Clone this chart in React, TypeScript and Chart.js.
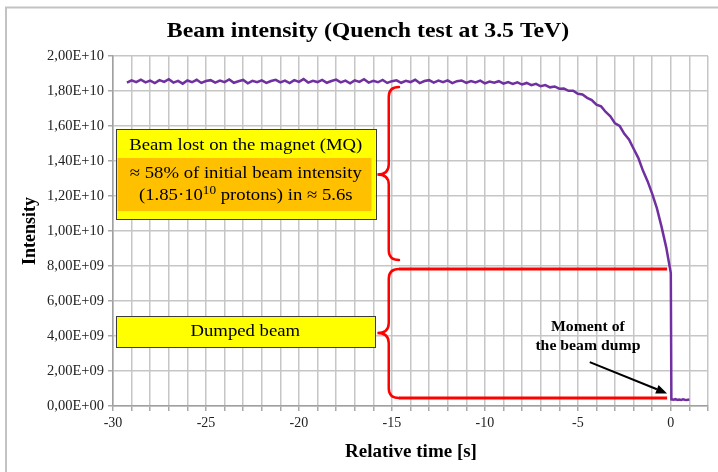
import React, { useEffect, useRef } from "react";
import { Chart, registerables } from "chart.js";

Chart.register(...registerables);

// ---- data (time in s, intensity in units of 1e10 protons) ----
const UNIT = 1e10;

const times = [
  -29.25, -29, -28.75, -28.5, -28.25, -28, -27.75, -27.5, -27.25, -27,
  -26.75, -26.5, -26.25, -26, -25.75, -25.5, -25.25, -25, -24.75, -24.5,
  -24.25, -24, -23.75, -23.5, -23.25, -23, -22.75, -22.5, -22.25, -22,
  -21.75, -21.5, -21.25, -21, -20.75, -20.5, -20.25, -20, -19.75, -19.5,
  -19.25, -19, -18.75, -18.5, -18.25, -18, -17.75, -17.5, -17.25, -17,
  -16.75, -16.5, -16.25, -16, -15.75, -15.5, -15.25, -15, -14.75, -14.5,
  -14.25, -14, -13.75, -13.5, -13.25, -13, -12.75, -12.5, -12.25, -12,
  -11.75, -11.5, -11.25, -11, -10.75, -10.5, -10.25, -10, -9.75, -9.5,
  -9.25, -9, -8.75, -8.5, -8.25, -8, -7.75, -7.5, -7.25, -7,
  -6.75, -6.5, -6.25, -6, -5.75, -5.5, -5.25, -5, -4.75, -4.5,
  -4.25, -4, -3.75, -3.5, -3.25, -3, -2.75, -2.5, -2.25, -2,
  -1.75, -1.5, -1.25, -1, -0.75, -0.5, -0.25, 0,
  0.03, 0.15, 0.25, 0.35, 0.45, 0.55, 0.65, 0.75, 0.85, 1.0,
];

const intensity = [
  1.848, 1.861, 1.851, 1.865, 1.849, 1.859, 1.845, 1.862, 1.852, 1.867,
  1.848, 1.858, 1.842, 1.860, 1.850, 1.864, 1.846, 1.857, 1.862, 1.848,
  1.859, 1.851, 1.866, 1.847, 1.856, 1.863, 1.844, 1.858, 1.850, 1.861,
  1.846, 1.857, 1.864, 1.849, 1.859, 1.845, 1.862, 1.852, 1.868, 1.848,
  1.858, 1.851, 1.863, 1.847, 1.857, 1.865, 1.849, 1.859, 1.844, 1.861,
  1.852, 1.867, 1.848, 1.858, 1.850, 1.863, 1.846, 1.856, 1.861, 1.847,
  1.858, 1.851, 1.864, 1.845, 1.857, 1.862, 1.848, 1.859, 1.850, 1.861,
  1.845, 1.856, 1.860, 1.846, 1.857, 1.849, 1.859, 1.844, 1.854, 1.847,
  1.856, 1.842, 1.851, 1.840, 1.849, 1.837, 1.846, 1.833, 1.841, 1.827,
  1.834, 1.821, 1.826, 1.813, 1.814, 1.801, 1.802, 1.784, 1.780, 1.761,
  1.748, 1.722, 1.712, 1.680, 1.656, 1.615, 1.600, 1.555, 1.523, 1.470,
  1.418, 1.345, 1.285, 1.212, 1.131, 1.025, 0.908, 0.760,
  0.038, 0.036, 0.039, 0.035, 0.037, 0.034, 0.038, 0.036, 0.035, 0.037,
];

const X_MIN = -30;
const X_MAX = 2;
const Y_MAX = 2.0; // x 1e10

const TITLE = "Beam intensity (Quench test at 3.5 TeV)";
const X_TITLE = "Relative time [s]";
const Y_TITLE = "Intensity";
const BOX1_LINES = ["Beam lost on the magnet (MQ)", "\u2248 58% of initial beam intensity"];
const BOX1_L3 = ["(1.85\u00b710", "10", " protons) in \u2248 5.6s"];
const BOX2_TEXT = "Dumped beam";
const DUMP_TEXT = ["Moment of", "the beam dump"];

const SERIF = "'Liberation Serif', 'Times New Roman', serif";

function fmtE(v: number): string {
  const s = v.toExponential(2);
  const [m, e] = s.split("e");
  const sign = e[0] === "-" ? "-" : "+";
  const digits = e.replace(/[+-]/, "").padStart(2, "0");
  return m.replace(".", ",") + "E" + sign + digits;
}

function txt(ctx: CanvasRenderingContext2D, s: string, x: number, y: number, font: string, sx = 1, align: CanvasTextAlign = "center") {
  ctx.save();
  ctx.font = font;
  ctx.textBaseline = "middle";
  ctx.textAlign = align;
  ctx.fillStyle = "#000";
  ctx.translate(x, y);
  ctx.scale(sx, 1);
  ctx.fillText(s, 0, 0);
  ctx.restore();
}

function brace(ctx: CanvasRenderingContext2D, xs: number, xt: number, xe: number, yt: number, ym: number, yb: number) {
  const r = 10;
  ctx.beginPath();
  ctx.moveTo(xe, yt);
  ctx.quadraticCurveTo(xs, yt, xs, yt + r);
  ctx.lineTo(xs, ym - r);
  ctx.quadraticCurveTo(xs, ym, xt, ym);
  ctx.quadraticCurveTo(xs, ym, xs, ym + r);
  ctx.lineTo(xs, yb - r);
  ctx.quadraticCurveTo(xs, yb, xe, yb);
  ctx.stroke();
}

const overlay = {
  id: "overlay",
  afterDraw(chart: any) {
    const ctx: CanvasRenderingContext2D = chart.ctx;
    const X = (t: number) => chart.scales.x.getPixelForValue(t);
    const Y = (v: number) => chart.scales.y.getPixelForValue(v * UNIT);
    ctx.save();

    // outer frame
    ctx.strokeStyle = "#c3c3c3";
    ctx.lineWidth = 2;
    ctx.strokeRect(6, 7.5, 800, 600);

    // titles
    txt(ctx, TITLE, 368, 31, `bold 22px ${SERIF}`, 1.08);
    txt(ctx, X_TITLE, 411, 452, `bold 19px ${SERIF}`, 1.0);
    ctx.save();
    ctx.translate(30, 231);
    ctx.rotate(-Math.PI / 2);
    txt(ctx, Y_TITLE, 0, 0, `bold 18px ${SERIF}`, 1);
    ctx.restore();

    // box 1
    const b1x0 = X(-29.85), b1x1 = X(-15.87), b1y0 = Y(1.583), b1y1 = Y(1.069);
    ctx.fillStyle = "#ffff00";
    ctx.fillRect(b1x0, b1y0, b1x1 - b1x0, b1y1 - b1y0);
    ctx.fillStyle = "#ffc000";
    const o0 = X(-29.75), o1 = X(-16.1), oy0 = Y(1.417), oy1 = Y(1.114);
    ctx.fillRect(o0, oy0, o1 - o0, oy1 - oy0);
    ctx.strokeStyle = "#3c3c3c";
    ctx.lineWidth = 1;
    ctx.strokeRect(Math.round(b1x0) + 0.5, Math.round(b1y0) + 0.5, Math.round(b1x1 - b1x0), Math.round(b1y1 - b1y0));
    const bcx = (b1x0 + b1x1) / 2;
    const bf = `17px ${SERIF}`;
    const bsx = 1.1;
    txt(ctx, BOX1_LINES[0], bcx, Y(1.491), bf, bsx);
    txt(ctx, BOX1_LINES[1], bcx, Y(1.331), bf, bsx);
    {
      const supF = `12px ${SERIF}`;
      ctx.font = bf;
      const wa = ctx.measureText(BOX1_L3[0]).width * bsx;
      const wc = ctx.measureText(BOX1_L3[2]).width * bsx;
      ctx.font = supF;
      const wb = ctx.measureText(BOX1_L3[1]).width * bsx;
      const tot = wa + wb + wc;
      const sx0 = bcx - tot / 2;
      const ly = Y(1.2);
      txt(ctx, BOX1_L3[0], sx0, ly, bf, bsx, "left");
      txt(ctx, BOX1_L3[1], sx0 + wa, ly - 5, supF, bsx, "left");
      txt(ctx, BOX1_L3[2], sx0 + wa + wb, ly, bf, bsx, "left");
    }

    // box 2
    const b2x0 = X(-29.85), b2x1 = X(-15.92), b2y0 = Y(0.514), b2y1 = Y(0.337);
    ctx.fillStyle = "#ffff00";
    ctx.fillRect(b2x0, b2y0, b2x1 - b2x0, b2y1 - b2y0);
    ctx.strokeStyle = "#3c3c3c";
    ctx.lineWidth = 1;
    ctx.strokeRect(Math.round(b2x0) + 0.5, Math.round(b2y0) + 0.5, Math.round(b2x1 - b2x0), Math.round(b2y1 - b2y0));
    txt(ctx, BOX2_TEXT, (b2x0 + b2x1) / 2, (b2y0 + b2y1) / 2, bf, bsx);

    // braces and red lines
    ctx.strokeStyle = "#ff0000";
    ctx.lineWidth = 2.5;
    ctx.lineCap = "round";
    brace(ctx, X(-15.17), X(-15.78), X(-14.62), Y(1.823), Y(1.323), Y(0.834));
    brace(ctx, X(-15.17), X(-15.78), X(-14.62), Y(0.783), Y(0.417), Y(0.046));
    ctx.lineWidth = 3;
    ctx.lineCap = "butt";
    ctx.beginPath();
    ctx.moveTo(X(-14.62), Y(0.783));
    ctx.lineTo(X(-0.2), Y(0.783));
    ctx.moveTo(X(-14.62), Y(0.046));
    ctx.lineTo(X(-0.2), Y(0.046));
    ctx.stroke();

    // dump annotation
    const df = `bold 15px ${SERIF}`;
    txt(ctx, DUMP_TEXT[0], X(-4.46), Y(0.451), df, 1.05);
    txt(ctx, DUMP_TEXT[1], X(-4.46), Y(0.343), df, 1.05);
    const ax0 = X(-4.36), ay0 = Y(0.251), ax1 = X(-0.2), ay1 = Y(0.072);
    const ang = Math.atan2(ay1 - ay0, ax1 - ax0);
    const hl = 11, hw = 4.5;
    ctx.strokeStyle = "#000";
    ctx.fillStyle = "#000";
    ctx.lineWidth = 2;
    ctx.beginPath();
    ctx.moveTo(ax0, ay0);
    ctx.lineTo(ax1 - hl * Math.cos(ang), ay1 - hl * Math.sin(ang));
    ctx.stroke();
    ctx.beginPath();
    ctx.moveTo(ax1, ay1);
    ctx.lineTo(ax1 - hl * Math.cos(ang) + hw * Math.sin(ang), ay1 - hl * Math.sin(ang) - hw * Math.cos(ang));
    ctx.lineTo(ax1 - hl * Math.cos(ang) - hw * Math.sin(ang), ay1 - hl * Math.sin(ang) + hw * Math.cos(ang));
    ctx.closePath();
    ctx.fill();

    ctx.restore();
  },
};

export default function App() {
  const ref = useRef<HTMLCanvasElement | null>(null);
  useEffect(() => {
    if (!ref.current) return;
    const points = times.map((t, i) => ({ x: t, y: intensity[i] * UNIT }));
    const gridColor = "#c6c6c6";
    const chart = new Chart(ref.current, {
      type: "line",
      data: {
        datasets: [
          {
            data: points,
            borderColor: "#7030a0",
            borderWidth: 2.5,
            pointRadius: 0,
            tension: 0,
            fill: false,
          },
        ],
      },
      options: {
        animation: false,
        responsive: false,
        maintainAspectRatio: false,
        layout: { padding: { top: 56, right: 10, left: 0, bottom: 0 } },
        plugins: { legend: { display: false }, tooltip: { enabled: false }, title: { display: false } },
        scales: {
          x: {
            type: "linear",
            min: X_MIN,
            max: X_MAX,
            afterFit: (s: any) => { s.height = 66; },
            ticks: {
              stepSize: 1,
              autoSkip: false,
              maxRotation: 0,
              padding: 4,
              color: "#222",
              font: { family: SERIF, size: 14 },
              callback: (v: any) => (Number(v) % 5 === 0 ? String(v) : ""),
            },
            grid: { color: gridColor, lineWidth: 1.5, tickLength: 5, tickColor: "#a8a8a8" },
            border: { color: "#a0a0a0", width: 1.5 },
          },
          y: {
            min: 0,
            max: Y_MAX * UNIT,
            afterFit: (s: any) => { s.width = 113; },
            ticks: {
              stepSize: 0.2 * UNIT,
              padding: 4,
              color: "#222",
              font: { family: SERIF, size: 14.5 },
              callback: (v: any) => fmtE(Number(v)),
            },
            grid: { color: gridColor, lineWidth: 1.5, tickLength: 5, tickColor: "#a8a8a8" },
            border: { color: "#a0a0a0", width: 1.5 },
          },
        },
      },
      plugins: [overlay],
    });
    return () => chart.destroy();
  }, []);
  return (
    <div style={{ position: "fixed", left: 0, top: 0, width: 718, height: 472, background: "#fff" }}>
      <canvas ref={ref} width={718} height={472} style={{ width: 718, height: 472, display: "block" }} />
    </div>
  );
}
